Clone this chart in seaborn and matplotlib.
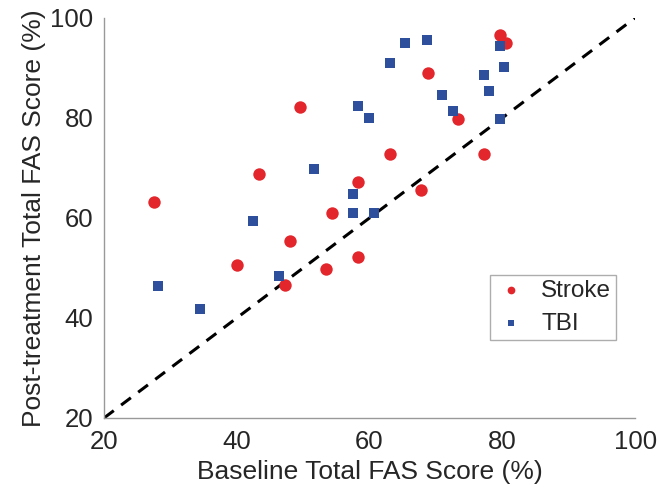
import pandas as pd
import seaborn as sns
import matplotlib.pyplot as plt

sns.set_style('white')
plt.rcParams['font.family'] = ['Liberation Sans', 'DejaVu Sans']

stroke_x = [27.6, 40.1, 43.3, 47.3, 48.0, 49.6, 53.5, 54.4, 58.3, 58.3, 63.1, 67.7, 68.8, 73.3, 77.2, 79.6, 80.5]
stroke_y = [63.2, 50.5, 68.8, 46.5, 55.3, 82.2, 49.7, 60.9, 67.2, 52.1, 72.7, 65.5, 88.9, 79.8, 72.7, 96.6, 94.9]
tbi_x = [28.2, 34.5, 42.5, 46.4, 51.7, 57.5, 57.5, 58.2, 59.9, 60.6, 63.1, 65.4, 68.6, 70.9, 72.5, 77.2, 78.0, 79.6, 79.6, 80.3]
tbi_y = [46.3, 41.8, 59.4, 48.3, 69.8, 64.8, 60.9, 82.3, 79.9, 60.9, 90.9, 94.9, 95.6, 84.5, 81.4, 88.5, 85.4, 79.8, 94.4, 90.1]
ticks = [20, 40, 60, 80, 100]

df = pd.concat([
    pd.DataFrame({'Baseline': stroke_x, 'Post': stroke_y, 'Group': 'Stroke'}),
    pd.DataFrame({'Baseline': tbi_x, 'Post': tbi_y, 'Group': 'TBI'}),
])

fig = plt.figure(figsize=(6.68, 4.97), dpi=100)
ax = fig.add_axes([0.1557, 0.159, 0.795, 0.805])

# identity line
ax.plot([20, 100], [20, 100], ls=(0, (4, 3)), color='black', lw=2.2, zorder=1)

palette = {'Stroke': '#e3262b', 'TBI': '#2d4f9c'}
markers = {'Stroke': 'o', 'TBI': 's'}
sizes = {'Stroke': 80, 'TBI': 55}
for g, sub in df.groupby('Group'):
    sns.scatterplot(data=sub, x='Baseline', y='Post', color=palette[g], marker=markers[g],
                    s=sizes[g], linewidth=0, ax=ax, label=g, zorder=3)

ax.set_xlim(20, 100)
ax.set_ylim(20, 100)
ax.set_xticks(ticks)
ax.set_yticks(ticks)
ax.tick_params(direction='in', length=4, color='#999999', labelsize=18.5)
ax.tick_params(axis='x', pad=9)
ax.tick_params(axis='y', pad=7.5)
for side in ['top', 'right']:
    ax.spines[side].set_visible(False)
for side in ['left', 'bottom']:
    ax.spines[side].set_color('#999999')
    ax.spines[side].set_linewidth(1.0)

ax.set_xlabel('Baseline Total FAS Score (%)', fontsize=19, labelpad=4)
ax.set_ylabel('Post-treatment Total FAS Score (%)', fontsize=19, labelpad=3)

leg = ax.legend(loc='upper left', bbox_to_anchor=(0.727, 0.3575), borderaxespad=0,
                fontsize=17.5, markerscale=0.62, frameon=True, fancybox=False,
                edgecolor='#999999', handletextpad=0.6, borderpad=0.2,
                labelspacing=0.45, handlelength=1.3)
leg.get_frame().set_linewidth(1.0)

fig.savefig('out.png', dpi=100)
